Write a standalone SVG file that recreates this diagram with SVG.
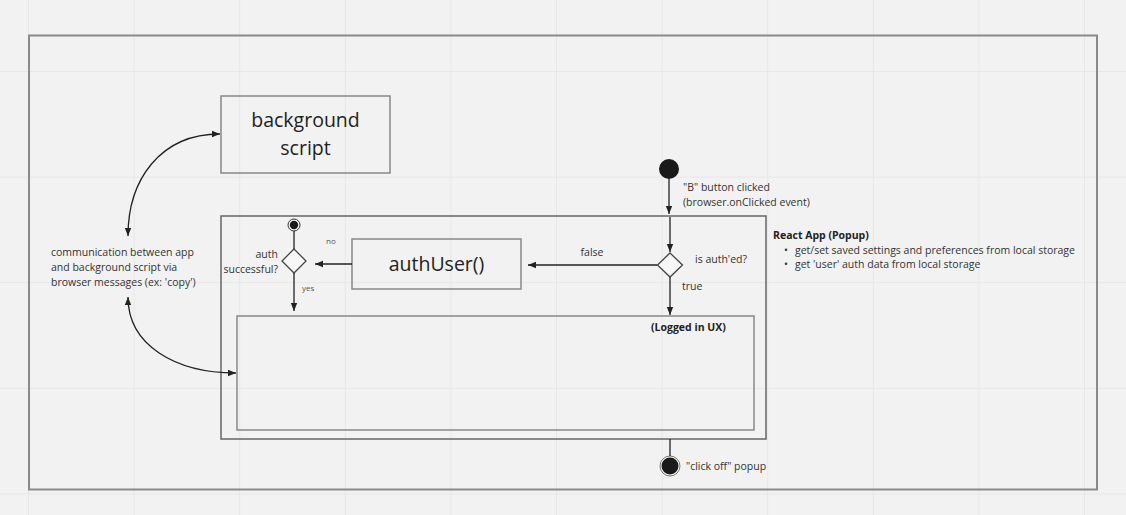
<svg xmlns="http://www.w3.org/2000/svg" width="1126" height="515" viewBox="0 0 1126 515">
<defs>
<pattern id="grid" x="28" y="71" width="105.6" height="105.6" patternUnits="userSpaceOnUse">
<path d="M0,0 V105.6 M0,0 H105.6" fill="none" stroke="#e3e3e3" stroke-width="1.5"/>
</pattern>
<marker id="arr" viewBox="0 0 10 10" refX="10" refY="5" markerWidth="8" markerHeight="8" markerUnits="userSpaceOnUse" orient="auto-start-reverse">
<path d="M0,1 L10,5 L0,9 z" fill="#222"/>
</marker>
</defs>
<style>
text{font-family:"Open Sans","Noto Sans","DejaVu Sans",sans-serif;fill:#333}
.s{font-size:10.5px}
.xs{font-size:8px;fill:#555}
.big{font-size:19.5px;fill:#222}
.b{font-weight:bold;fill:#222}
.box{fill:none;stroke:#888;stroke-width:1.5}
.dbox{fill:none;stroke:#666;stroke-width:1.5}
.ln{fill:none;stroke:#222;stroke-width:1.3}
.dia{fill:#f7f7f7;stroke:#444;stroke-width:1.3}
</style>
<rect width="1126" height="515" fill="#f2f2f2"/>
<rect width="1126" height="515" fill="url(#grid)"/>
<rect x="29" y="35.5" width="1068" height="454" fill="none" stroke="#8a8a8a" stroke-width="2"/>

<g id="background-script">
<rect class="box" x="221" y="96" width="169" height="77"/>
<text class="big" x="305.5" y="127" text-anchor="middle">background</text>
<text class="big" x="305.5" y="155" text-anchor="middle">script</text>
</g>

<g id="communication-note">
<text class="s" x="51" y="256">communication between app</text>
<text class="s" x="51" y="271">and background script via</text>
<text class="s" x="51" y="286">browser messages (ex: 'copy')</text>
</g>

<g id="react-app">
<rect class="dbox" x="221" y="216" width="545" height="223"/>
<text class="s b" x="773" y="239">React App (Popup)</text>
<text class="s" x="784" y="254">•</text>
<text class="s" x="795" y="254">get/set saved settings and preferences from local storage</text>
<text class="s" x="784" y="268">•</text>
<text class="s" x="795" y="268">get 'user' auth data from local storage</text>
</g>

<g id="logged-in-ux">
<rect class="box" x="237" y="316" width="517" height="114"/>
<text class="s b" x="651" y="331">(Logged in UX)</text>
</g>

<g id="auth-start">
<circle cx="294" cy="225" r="6" fill="#f7f7f7" stroke="#333" stroke-width="1"/>
<circle cx="294" cy="225" r="4.2" fill="#1a1a1a"/>
</g>

<g id="auth-successful">
<polygon class="dia" points="294,249 306,261 294,273 282,261"/>
<text class="s" x="278" y="258" text-anchor="end">auth</text>
<text class="s" x="278" y="273" text-anchor="end">successful?</text>
</g>

<g id="auth-user">
<rect class="box" x="352" y="239" width="169" height="50"/>
<text class="big" x="436.5" y="271" text-anchor="middle">authUser()</text>
</g>

<g id="start">
<circle cx="669" cy="169" r="10" fill="#1a1a1a"/>
<text class="s" x="683" y="191">"B" button clicked</text>
<text class="s" x="683" y="206">(browser.onClicked event)</text>
</g>

<g id="is-authed">
<polygon class="dia" points="670,253 682.5,265 670,277 657.5,265"/>
<text class="s" x="695" y="263">is auth'ed?</text>
</g>

<g id="end">
<circle cx="670" cy="466" r="10" fill="#f7f7f7" stroke="#777" stroke-width="1"/>
<circle cx="670" cy="466" r="8.5" fill="#1a1a1a"/>
<text class="s" x="686" y="470">"click off" popup</text>
</g>

<g id="connectors">
<path class="ln" d="M128,236 C128,180 160,134 220,134" marker-start="url(#arr)" marker-end="url(#arr)"/>
<path class="ln" d="M128,297 C128,345 175,373 236,373" marker-start="url(#arr)" marker-end="url(#arr)"/>
<path class="ln" d="M669,179 V214" marker-end="url(#arr)"/>
<path class="ln" d="M670,217 V252" marker-end="url(#arr)"/>
<path class="ln" d="M657,265 H528" marker-end="url(#arr)"/>
<text class="s" x="592" y="256" text-anchor="middle">false</text>
<path class="ln" d="M670,277 V315" marker-end="url(#arr)"/>
<text class="s" x="682" y="290">true</text>
<path class="ln" d="M352,264 H315" marker-end="url(#arr)"/>
<text class="xs" x="326" y="244">no</text>
<path class="ln" d="M294,231 V249"/>
<path class="ln" d="M294,273 V311" marker-end="url(#arr)"/>
<text class="xs" x="302" y="291">yes</text>
<path class="ln" d="M670,439 V456"/>
</g>
</svg>
